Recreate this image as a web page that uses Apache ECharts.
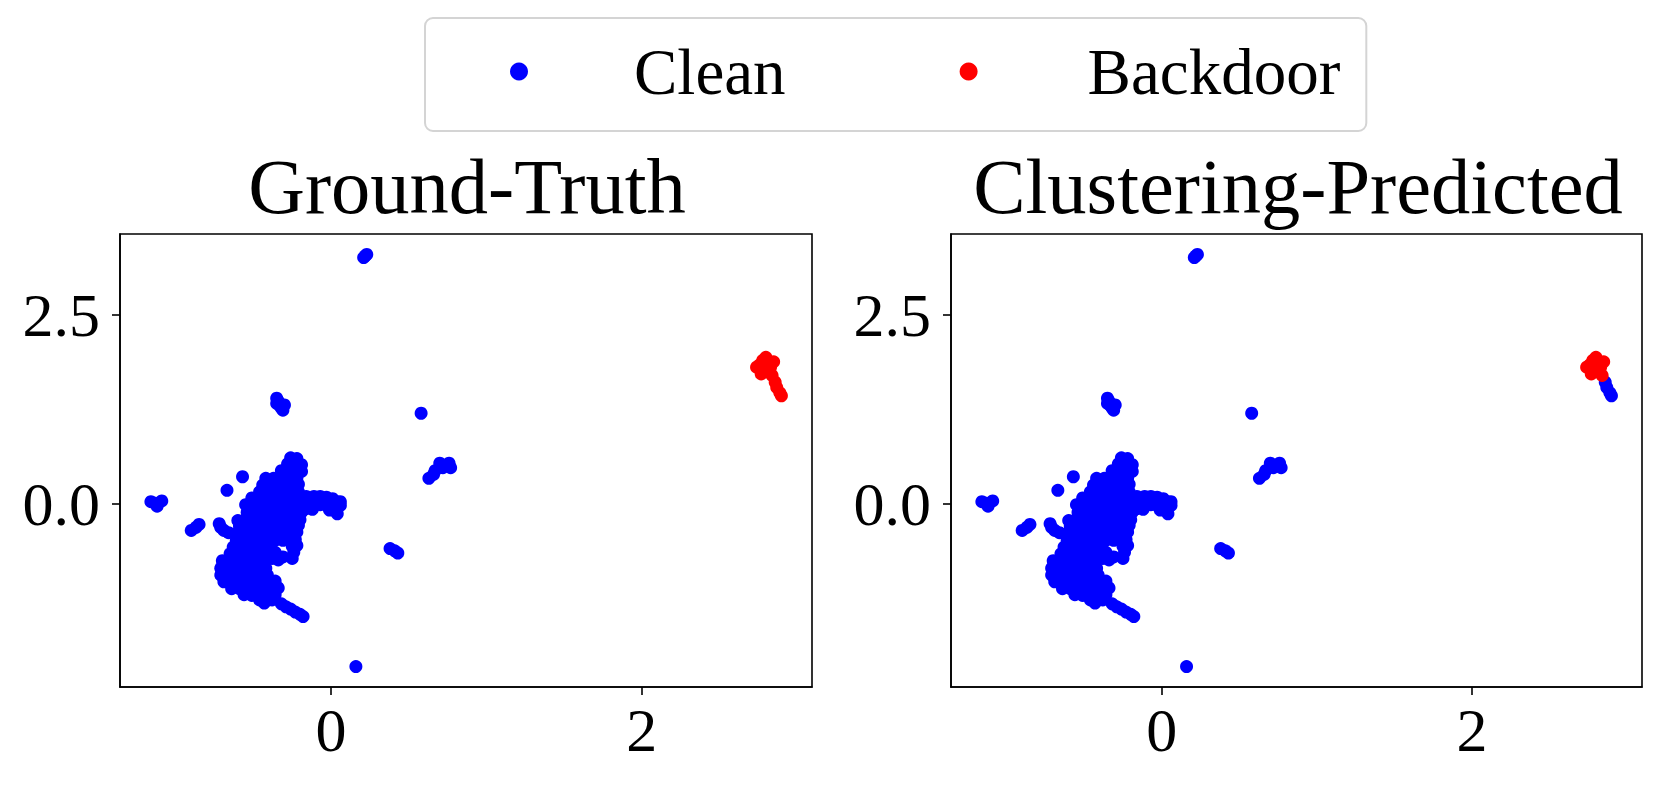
<!DOCTYPE html>
<html>
<head>
<meta charset="utf-8">
<script src="https://cdn.jsdelivr.net/npm/echarts@6/dist/echarts.min.js"></script>
<style>
html,body{margin:0;padding:0;background:#fff;}
#chart{width:1662px;height:786px;}
</style>
</head>
<body>
<div id="chart"></div>
<script>
// ---- data ----
const titles = ['Ground-Truth', 'Clustering-Predicted'];
const legendNames = ['Clean', 'Backdoor'];
const xTicks = [0, 2];
const yTicks = [0, 2.5];
const xRange = [-1.359, 3.097];
const yRange = [-2.421, 3.571];

// clean samples (outliers + main blob)
const cleanPoints = [
  [0.21,3.26],[0.22,3.28],[0.23,3.30],
  [-0.35,1.40],[-0.34,1.36],[-0.35,1.33],[-0.33,1.30],[-0.30,1.31],[-0.31,1.24],[-0.32,1.27],
  [0.58,1.20],
  [0.70,0.54],[0.76,0.54],[0.77,0.48],[0.72,0.48],[0.67,0.44],[0.66,0.39],[0.63,0.34],
  [0.38,-0.59],[0.41,-0.62],[0.43,-0.65],
  [0.16,-2.15],
  [-1.16,0.03],[-1.09,0.04],[-1.12,-0.03],[-1.13,0.01],
  [-0.90,-0.35],[-0.87,-0.31],[-0.85,-0.27],
  [-0.57,0.36],[-0.67,0.18],
  [-0.26,0.61],[-0.22,0.60],
  [-0.28,0.53],[-0.24,0.53],[-0.19,0.52],
  [-0.32,0.44],[-0.28,0.44],[-0.23,0.44],[-0.19,0.43],
  [-0.42,0.34],[-0.37,0.34],[-0.32,0.35],[-0.27,0.34],[-0.22,0.34],
  [-0.44,0.25],[-0.40,0.25],[-0.35,0.25],[-0.30,0.25],[-0.25,0.25],[-0.21,0.26],
  [-0.46,0.16],[-0.41,0.16],[-0.36,0.16],[-0.31,0.16],[-0.26,0.16],[-0.21,0.16],
  [-0.51,0.08],[-0.46,0.08],[-0.41,0.08],[-0.36,0.08],[-0.31,0.08],[-0.26,0.08],[-0.21,0.08],
  [-0.16,0.10],[-0.11,0.10],[-0.07,0.10],[-0.03,0.09],[0.01,0.07],[0.04,0.03],[0.06,0.03],
  [-0.15,0.01],[-0.11,0.00],[-0.07,-0.01],[-0.03,-0.02],[0.01,-0.05],[-0.01,-0.08],[0.04,-0.13],[0.06,-0.02],
  [-0.16,-0.06],[-0.12,-0.07],
  [-0.55,-0.01],[-0.50,-0.01],[-0.45,-0.01],[-0.40,-0.01],[-0.35,-0.01],[-0.30,-0.01],[-0.25,-0.01],[-0.20,-0.01],
  [-0.54,-0.11],[-0.49,-0.11],[-0.44,-0.11],[-0.39,-0.11],[-0.34,-0.11],[-0.29,-0.11],[-0.24,-0.11],[-0.19,-0.11],
  [-0.60,-0.22],[-0.55,-0.20],[-0.50,-0.20],[-0.45,-0.20],[-0.40,-0.20],[-0.35,-0.20],[-0.30,-0.20],[-0.25,-0.20],[-0.20,-0.21],
  [-0.72,-0.26],[-0.71,-0.31],[-0.69,-0.35],[-0.66,-0.38],
  [-0.59,-0.29],[-0.54,-0.29],[-0.49,-0.29],[-0.44,-0.29],[-0.39,-0.29],[-0.34,-0.29],[-0.29,-0.29],[-0.24,-0.29],[-0.21,-0.28],
  [-0.60,-0.38],[-0.55,-0.38],[-0.50,-0.38],[-0.45,-0.38],[-0.40,-0.38],[-0.35,-0.38],[-0.30,-0.38],[-0.25,-0.38],[-0.22,-0.37],
  [-0.61,-0.48],[-0.56,-0.48],[-0.51,-0.48],[-0.46,-0.48],[-0.41,-0.48],[-0.36,-0.48],[-0.31,-0.48],[-0.26,-0.49],[-0.23,-0.47],
  [-0.63,-0.57],[-0.58,-0.57],[-0.53,-0.57],[-0.48,-0.57],[-0.43,-0.57],[-0.39,-0.57],[-0.25,-0.56],[-0.22,-0.55],
  [-0.65,-0.66],[-0.60,-0.66],[-0.55,-0.66],[-0.50,-0.66],[-0.45,-0.66],[-0.41,-0.66],[-0.36,-0.64],[-0.24,-0.64],[-0.25,-0.72],
  [-0.38,-0.72],[-0.34,-0.74],[-0.31,-0.70],
  [-0.70,-0.75],[-0.66,-0.75],[-0.61,-0.75],[-0.56,-0.75],[-0.51,-0.75],[-0.46,-0.75],[-0.43,-0.75],
  [-0.71,-0.85],[-0.66,-0.85],[-0.61,-0.85],[-0.56,-0.85],[-0.51,-0.85],[-0.46,-0.85],[-0.42,-0.85],
  [-0.71,-0.94],[-0.66,-0.94],[-0.61,-0.94],[-0.56,-0.94],[-0.51,-0.94],[-0.46,-0.94],[-0.41,-0.94],
  [-0.69,-1.03],[-0.64,-1.03],[-0.59,-1.03],[-0.54,-1.03],[-0.49,-1.03],[-0.44,-1.03],[-0.39,-1.03],[-0.36,-1.02],
  [-0.64,-1.12],[-0.59,-1.12],[-0.54,-1.12],[-0.49,-1.12],[-0.44,-1.12],[-0.39,-1.12],[-0.34,-1.11],
  [-0.56,-1.20],[-0.51,-1.21],[-0.46,-1.21],[-0.41,-1.21],[-0.36,-1.20],
  [-0.46,-1.27],[-0.42,-1.28],[-0.38,-1.27],[-0.43,-1.31],
  [-0.32,-1.32],[-0.29,-1.36],[-0.26,-1.39],[-0.23,-1.43],[-0.20,-1.46],[-0.18,-1.49]
];
// backdoor samples that clustering flags as backdoor
const backdoorFlagged = [
  [2.80,1.94],[2.78,1.90],[2.82,1.86],[2.74,1.81],[2.76,1.84],[2.85,1.88],
  [2.83,1.81],[2.79,1.76],[2.77,1.72],[2.84,1.70]
];
// backdoor samples that clustering assigns to clean
const backdoorMissed = [
  [2.86,1.61],[2.87,1.54],[2.89,1.47],[2.90,1.43]
];

// ---- chart ----
const FONT = '"Liberation Serif","DejaVu Serif",serif';
const BLUE = '#0000ff', RED = '#ff0000';
const grids = [
  {left: 120, top: 234, width: 692, height: 453},
  {left: 951, top: 234, width: 691, height: 453}
];

function xAxisFor(i) {
  return {
    type: 'value', gridIndex: i, min: xRange[0], max: xRange[1],
    splitLine: {show: false},
    axisLine: {show: true, onZero: false, lineStyle: {color: '#000', width: 1.6}},
    axisTick: {show: true, length: 8, inside: false, customValues: xTicks, lineStyle: {color: '#000', width: 1.6}},
    axisLabel: {show: true, customValues: xTicks, margin: 12, fontFamily: FONT, fontSize: 62, color: '#000',
      formatter: v => String(v)}
  };
}
function yAxisFor(i) {
  return {
    type: 'value', gridIndex: i, min: yRange[0], max: yRange[1],
    splitLine: {show: false},
    axisLine: {show: true, onZero: false, lineStyle: {color: '#000', width: 1.6}},
    axisTick: {show: true, length: 8, inside: false, customValues: yTicks, lineStyle: {color: '#000', width: 1.6}},
    axisLabel: {show: true, customValues: yTicks, margin: 20, fontFamily: FONT, fontSize: 62, color: '#000',
      formatter: v => v.toFixed(1)}
  };
}
function scatter(name, i, data, color) {
  return {
    name: name, type: 'scatter', xAxisIndex: i, yAxisIndex: i,
    data: data, symbol: 'circle', symbolSize: 13,
    itemStyle: {color: color, opacity: 1}, silent: true
  };
}

const chart = echarts.init(document.getElementById('chart'), null, {renderer: 'svg'});
chart.setOption({
  animation: false,
  backgroundColor: '#fff',
  grid: grids.map(g => Object.assign({show: true, borderColor: '#000', borderWidth: 1.6, backgroundColor: 'transparent', containLabel: false}, g)),
  xAxis: [xAxisFor(0), xAxisFor(1)],
  yAxis: [yAxisFor(0), yAxisFor(1)],
  title: [
    {text: titles[0], left: 462, top: 142, textAlign: 'center',
      textStyle: {fontFamily: FONT, fontSize: 78.5, fontWeight: 'normal', color: '#000'}},
    {text: titles[1], left: 1293, top: 142, textAlign: 'center',
      textStyle: {fontFamily: FONT, fontSize: 78.5, fontWeight: 'normal', color: '#000'}}
  ],
  legend: {
    data: [
      {name: legendNames[0], icon: 'circle', itemStyle: {color: BLUE}},
      {name: legendNames[1], icon: 'circle', itemStyle: {color: RED},
        textStyle: {fontFamily: FONT, fontSize: 65, color: '#000', padding: [0, 0, 0, 105]}}
    ],
    left: 425, top: 18, orient: 'horizontal',
    itemWidth: 18, itemHeight: 18, itemGap: 174,
    padding: [21, 26, 27, 85],
    borderColor: '#d4d4d4', borderWidth: 2, borderRadius: 8,
    backgroundColor: '#fff',
    selectedMode: false,
    textStyle: {fontFamily: FONT, fontSize: 65, color: '#000', padding: [0, 0, 0, 101]}
  },
  series: [
    scatter(legendNames[0], 0, cleanPoints, BLUE),
    scatter(legendNames[1], 0, backdoorFlagged.concat(backdoorMissed), RED),
    scatter(legendNames[0], 1, cleanPoints.concat(backdoorMissed), BLUE),
    scatter(legendNames[1], 1, backdoorFlagged, RED)
  ]
});
</script>
</body>
</html>
